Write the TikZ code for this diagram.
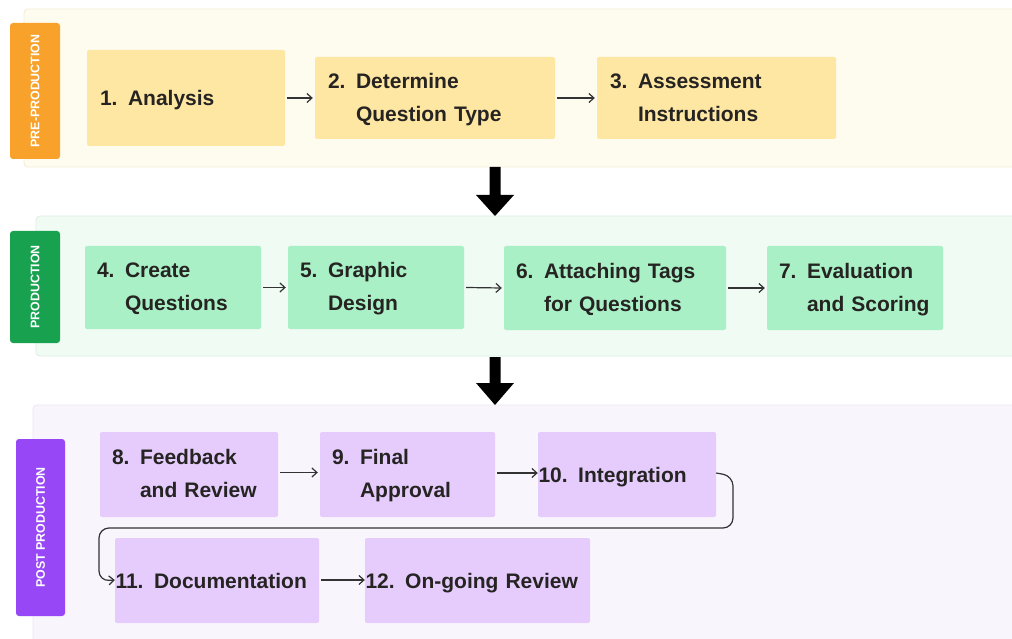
\documentclass[tikz,border=0pt]{standalone}
\usepackage{fontspec}
\setmainfont{Liberation Sans}
\usetikzlibrary{arrows.meta}
\definecolor{txt}{HTML}{262422}
\definecolor{ybg}{HTML}{FEFCEF}
\definecolor{ybd}{HTML}{F1ECD8}
\definecolor{ybox}{HTML}{FEE6A3}
\definecolor{ytab}{HTML}{F8A12B}
\definecolor{gbg}{HTML}{F0FBF4}
\definecolor{gbd}{HTML}{DCEFE3}
\definecolor{gbox}{HTML}{AAF0C6}
\definecolor{gtab}{HTML}{18A24F}
\definecolor{pbg}{HTML}{F9F5FD}
\definecolor{pbd}{HTML}{EBE5F2}
\definecolor{pbox}{HTML}{E5CCFC}
\definecolor{ptab}{HTML}{9747F5}
\definecolor{lnk}{HTML}{333333}
\tikzset{
  sect/.style={rounded corners=4pt, line width=0.8pt},
  tab/.style={rounded corners=3pt, text=white, font=\fontsize{12.4}{14}\selectfont\bfseries, rotate=90, inner sep=0pt},
  stepbox/.style={rounded corners=2pt, text=txt, font=\fontsize{21}{33}\selectfont\bfseries, align=left, inner ysep=0pt, anchor=center},
  oneline/.style={text height=15pt, text depth=0pt},
  link/.style={draw=lnk, line width=1.2pt, -{Straight Barb[length=5pt,width=9pt]}},
  bigarrow/.style={fill=black},
}
\newcommand{\hang}[2]{\raisebox{-1.5pt}{\begin{tabular}{@{}l@{ }l@{}}#1 & #2\end{tabular}}}
\begin{document}
\begin{tikzpicture}[x=1pt,y=-1pt]
\clip (0,0) rectangle (1012,639);
\fill[white] (0,0) rectangle (1012,639);
% sections
\draw[sect, fill=ybg, draw=ybd] (24,9) rectangle (1030,167);
\draw[sect, fill=gbg, draw=gbd] (36,216) rectangle (1030,356);
\draw[sect, fill=pbg, draw=pbd] (33,405) rectangle (1030,660);
% tabs
\fill[ytab, rounded corners=3pt] (10,23) rectangle (60,159);
\node[tab] (t1) at (35,91) {PRE-PRODUCTION};
\fill[gtab, rounded corners=3pt] (10,231) rectangle (60,343);
\node[tab] (t2) at (35,287) {PRODUCTION};
\fill[ptab, rounded corners=3pt] (16,439) rectangle (65,616);
\node[tab] (t3) at (40.5,527.5) {POST PRODUCTION};
% row 1
\node[stepbox, oneline, fill=ybox, minimum width=198, minimum height=96, text width=172, inner xsep=13] (b1) at (186,98) {1. Analysis};
\node[stepbox, fill=ybox, minimum width=240, minimum height=82, text width=214, inner xsep=13] (b2) at (435,98) {\hang{2.}{Determine\\ & Question Type}};
\node[stepbox, fill=ybox, minimum width=239, minimum height=82, text width=213, inner xsep=13] (b3) at (716.5,98) {\hang{3.}{Assessment\\ & Instructions}};
\draw[link] (b1.east) ++(2,0) -- ([xshift=-2]b2.west);
\draw[link] (b2.east) ++(2,0) -- ([xshift=-2]b3.west);
% big arrows
\fill[bigarrow] (489.5,167) -- (500.5,167) -- (500.5,195) -- (514,195) -- (495,216) -- (476,195) -- (489.5,195) -- cycle;
\fill[bigarrow] (489.5,357) -- (500.5,357) -- (500.5,383) -- (514,383) -- (495,405) -- (476,383) -- (489.5,383) -- cycle;
% row 2
\node[stepbox, fill=gbox, minimum width=176, minimum height=83, text width=152, inner xsep=12] (b4) at (173,287.5) {\hang{4.}{Create\\ & Questions}};
\node[stepbox, fill=gbox, minimum width=176, minimum height=83, text width=152, inner xsep=12] (b5) at (376,287.5) {\hang{5.}{Graphic\\ & Design}};
\node[stepbox, fill=gbox, minimum width=222, minimum height=84, text width=198, inner xsep=12] (b6) at (615,288) {\hang{6.}{Attaching Tags\\ & for Questions}};
\node[stepbox, fill=gbox, minimum width=176, minimum height=84, text width=152, inner xsep=12] (b7) at (855,288) {\hang{7.}{Evaluation\\ & and Scoring}};
\draw[link] ([xshift=2]b4.east) -- ([xshift=-2]b5.west);
\draw[link] ([xshift=2]b5.east) -- ([xshift=-2]b6.west);
\draw[link] ([xshift=2]b6.east) -- ([xshift=-2]b7.west);
% row 3
\node[stepbox, fill=pbox, minimum width=178, minimum height=85, text width=154, inner xsep=12] (b8) at (189,474.5) {\hang{8.}{Feedback\\ & and Review}};
\node[stepbox, fill=pbox, minimum width=175, minimum height=85, text width=151, inner xsep=12] (b9) at (407.5,474.5) {\hang{9.}{Final\\ & Approval}};
\node[stepbox, oneline, fill=pbox, minimum width=178, minimum height=85, text width=177, inner xsep=0.5] (b10) at (627,474.5) {10. Integration};
\node[stepbox, oneline, fill=pbox, minimum width=204, minimum height=85, text width=203, inner xsep=0.5] (b11) at (217,580.5) {11. Documentation};
\node[stepbox, oneline, fill=pbox, minimum width=225, minimum height=85, text width=224, inner xsep=0.5] (b12) at (477.5,580.5) {12. On-going Review};
\draw[link] ([xshift=2,yshift=2]b8.east) -- ([xshift=-2,yshift=2]b9.west);
\draw[link] ([xshift=2,yshift=1.5]b9.east) -- ([yshift=1.5]b10.west);
\coordinate (c1) at (733,476);
\coordinate (c2) at (733,528);
\coordinate (c3) at (99,528);
\coordinate (c4) at (99,581);
\draw[link, rounded corners=10pt] ([yshift=1.5]b10.east) -- (c1) -- (c2) -- (c3) -- (c4) -- ([yshift=0.5]b11.west);
\draw[link] ([xshift=2,yshift=0.5]b11.east) -- ([yshift=0.5]b12.west);
\end{tikzpicture}
\end{document}
